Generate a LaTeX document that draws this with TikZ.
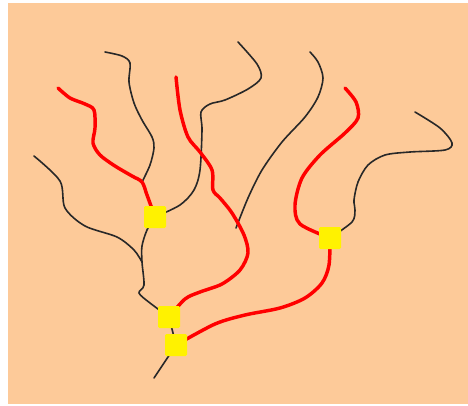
\documentclass[tikz,border=0pt]{standalone}
\usepackage{tikz}
\usepackage{xcolor}
\definecolor{sandcolor}{RGB}{253,202,153}
\definecolor{creekcolor}{RGB}{40,40,40}

\begin{document}
\begin{tikzpicture}[
    x=0.75pt, y=-0.75pt,
    junction/.style={rectangle, fill=yellow, rounded corners=1pt, minimum size=16.5pt, inner sep=0pt},
    river/.style={draw=red, line width=2.6pt, line cap=round},
    creek/.style={draw=creekcolor, line width=1.2pt, line cap=round}
]

% Canvas
\useasboundingbox (0,0) rectangle (468,405);
\fill[sandcolor] (8,3) rectangle (468,404);

% Junction positions
\coordinate (j1) at (155,217);
\coordinate (j2) at (330,238);
\coordinate (j3) at (169,317);
\coordinate (j4) at (176,345);
\coordinate (fork) at (142,262);
\coordinate (meet) at (142,182);
\coordinate (outlet) at (154,378);

% Black tributaries
\draw[creek] plot[smooth] coordinates {(34,156) (60,181) (65,208) (85,226) (117,237) (134,250) (fork)};
\draw[creek] plot[smooth] coordinates {(j1) (147,230) (142,246) (fork) (144,285) (139,293) (150,303) (j3)};
\draw[creek] plot[smooth] coordinates {(105,52) (122,56) (130,63) (129,82) (134,103) (142,120) (152,137) (154,148) (150,165) (meet)};
\draw[creek] plot[smooth] coordinates {(j1) (180,205) (194,190) (200,170) (202,130) (201,112) (210,104) (225,100) (248,89) (261,78) (257,64) (238,42)};
\draw[creek] plot[smooth] coordinates {(236,228) (248,198) (262,170) (282,142) (305,117) (318,97) (323,78) (318,62) (310,52)};
\draw[creek] plot[smooth] coordinates {(j2) (352,222) (355,210) (354,200) (358,182) (368,165) (385,155) (410,152) (445,150) (452,143) (440,128) (415,112)};
\draw[creek] (j3) -- (j4);
\draw[creek] (j4) -- (outlet);

% Red main channels
\draw[river] plot[smooth] coordinates {(58,88) (70,98) (85,104) (94,110) (95,128) (93,143) (100,155) (115,166) (132,176) (meet) (147,195) (j1)};
\draw[river] plot[smooth] coordinates {(176,77) (180,110) (188,137) (200,152) (212,170) (213,190) (220,198) (232,213) (244,235) (248,253) (240,270) (222,284) (200,292) (185,299) (j3)};
\draw[river] plot[smooth] coordinates {(345,88) (356,102) (358,118) (345,133) (320,155) (302,178) (295,205) (300,224) (j2)};
\draw[river] plot[smooth] coordinates {(j2) (329,265) (322,283) (305,298) (280,308) (245,315) (215,324) (j4)};

% Junctions
\node[junction] (n1) at (j1) {};
\node[junction] (n2) at (j2) {};
\node[junction] (n3) at (j3) {};
\node[junction] (n4) at (j4) {};

\end{tikzpicture}
\end{document}
